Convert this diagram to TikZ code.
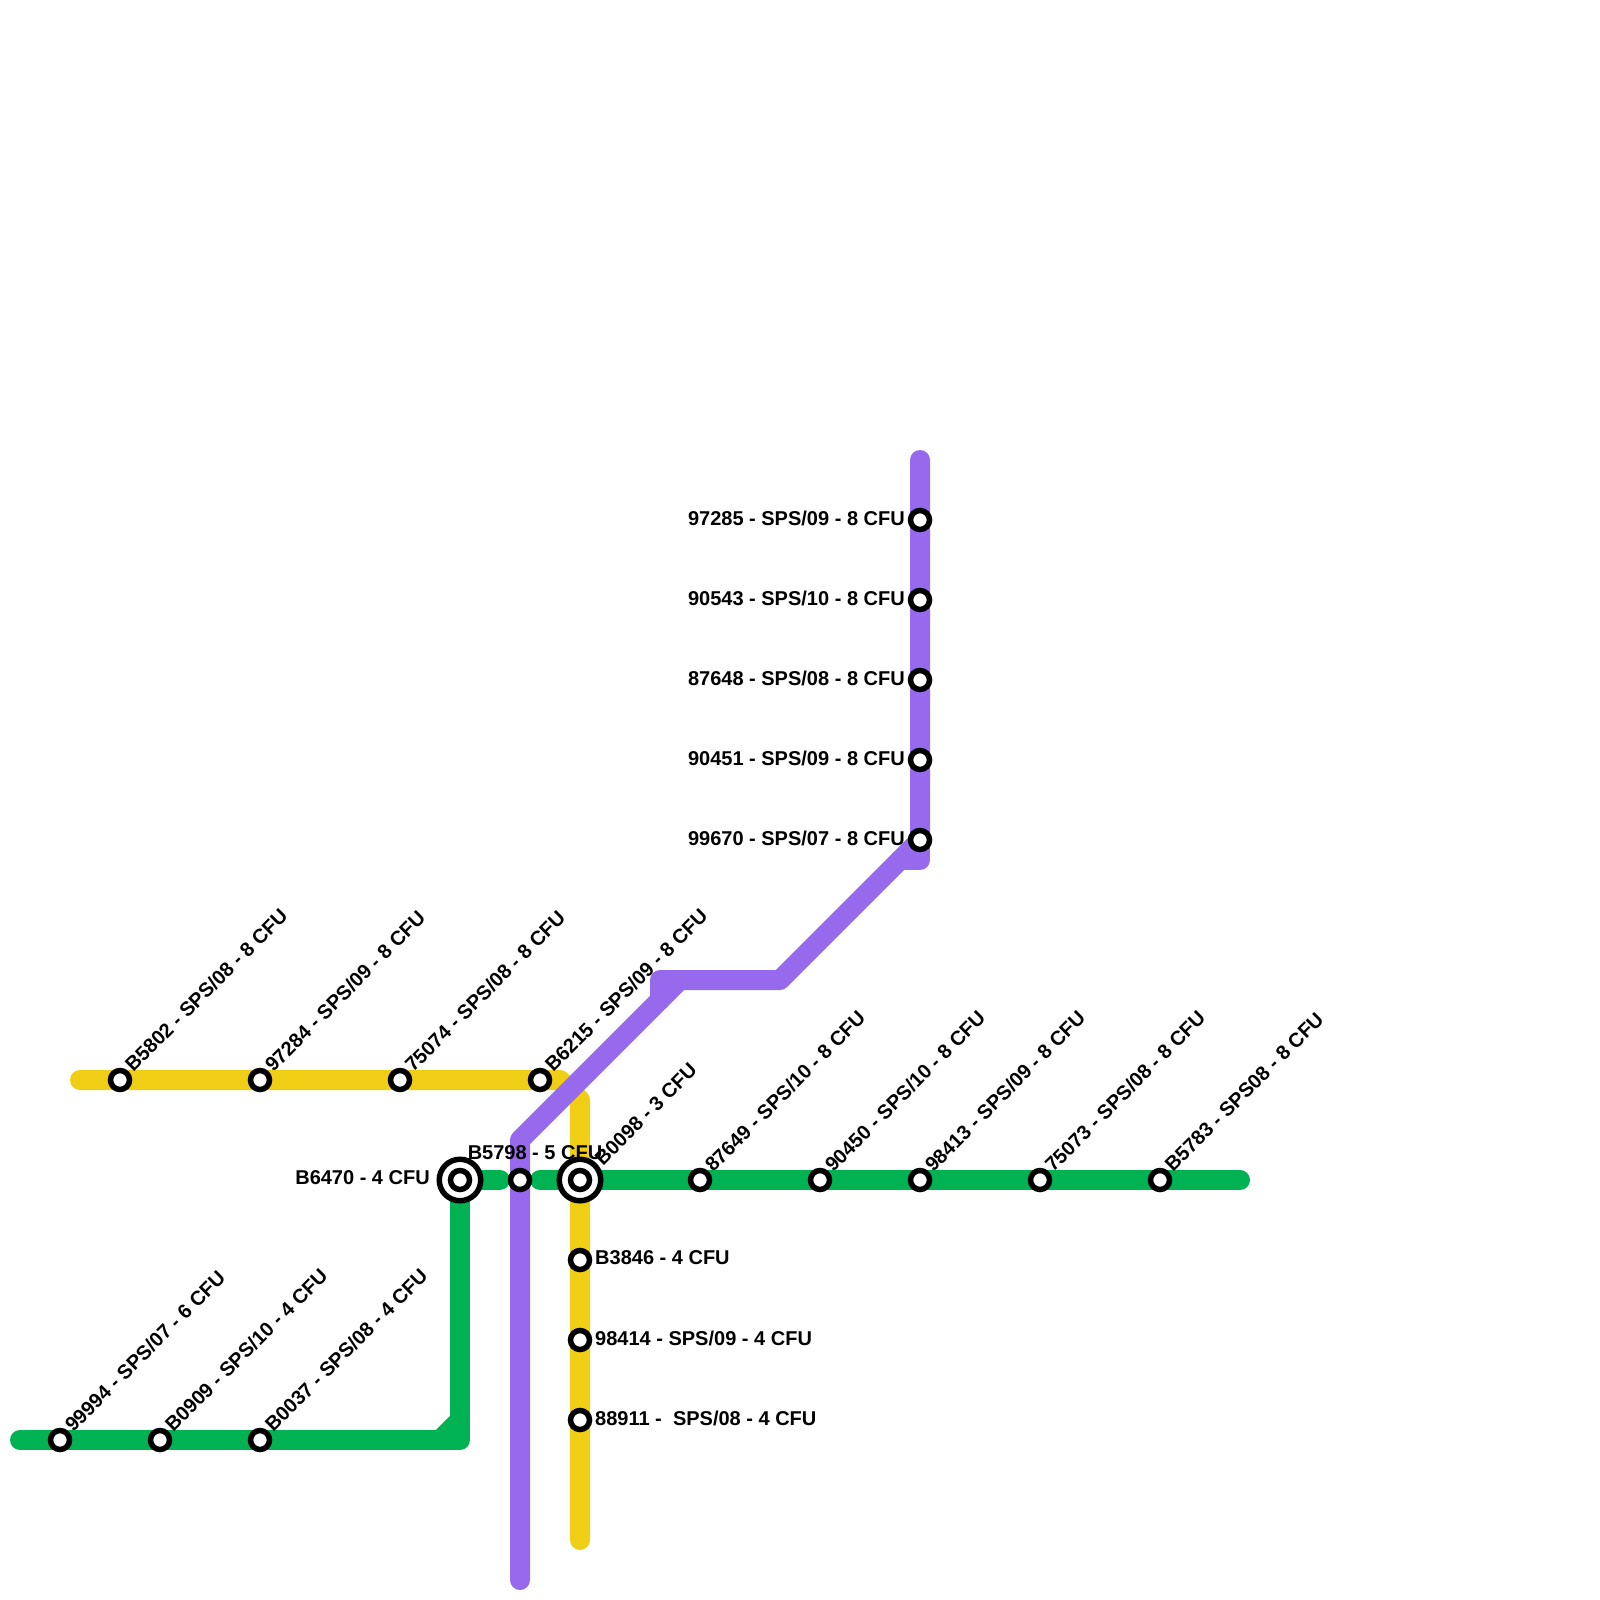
\documentclass[tikz,border=0pt]{standalone}
\usepackage{fontspec}
\setmainfont{Liberation Sans}
\definecolor{lgreen}{HTML}{00B251}
\definecolor{lyellow}{HTML}{F0CE15}
\definecolor{lpurple}{HTML}{9769EC}
\tikzset{
  track/.style={line width=20pt,line cap=round,line join=round},
  stn/.style={circle,draw=black,fill=white,line width=5.5pt,minimum size=19pt,inner sep=0pt},
  hub/.style={circle,draw=black,fill=white,line width=5.5pt,minimum size=41.5pt,inner sep=0pt},
  lab/.style={font=\bfseries\fontsize{20}{24}\selectfont,inner sep=0pt,text=black},
  labup/.style={lab,rotate=45,anchor=west,xshift=14.25pt,yshift=2.65pt},
  labl/.style={lab,anchor=east,xshift=-15pt,yshift=2pt},
  labr/.style={lab,anchor=west,xshift=15pt,yshift=2pt}
}
\begin{document}
\begin{tikzpicture}[x=1pt,y=-1pt]
\useasboundingbox (0,0) rectangle (1600,1600);
\fill[white] (0,0) rectangle (1600,1600);
% stops
\foreach \n/\x/\y in {a1/60/1440,a2/160/1440,a3/260/1440,
  b1/120/1080,b2/260/1080,b3/400/1080,b4/540/1080,
  c1/460/1180,c2/520/1180,c3/580/1180,c4/700/1180,c5/820/1180,c6/920/1180,c7/1040/1180,c8/1160/1180,
  d1/580/1260,d2/580/1340,d3/580/1420,
  e1/920/520,e2/920/600,e3/920/680,e4/920/760,e5/920/840}
  {\coordinate (\n) at (\x,\y);}
% bends and line ends
\coordinate (g0) at (20,1440);
\coordinate (g1) at (460,1440);
\coordinate (g2) at (440,1440);
\coordinate (g3) at (460,1420);
\coordinate (g4) at (500,1180);
\coordinate (g5) at (540,1180);
\coordinate (g6) at (1240,1180);
\coordinate (y0) at (80,1080);
\coordinate (y1) at (560,1080);
\coordinate (y2) at (580,1100);
\coordinate (y3) at (580,1540);
\coordinate (p0) at (520,1580);
\coordinate (p1) at (520,1140);
\coordinate (p2) at (680,980);
\coordinate (p3) at (660,1000);
\coordinate (p4) at (660,980);
\coordinate (p5) at (780,980);
\coordinate (p6) at (900,860);
\coordinate (p7) at (920,860);
\coordinate (p8) at (920,460);
% lines
\draw[track,lgreen] (g0) -- (g1) -- (c1) -- (g4);
\draw[track,lgreen] (g2) -- (g3);
\draw[track,lgreen] (g5) -- (g6);
\draw[track,lyellow] (y0) -- (y1) -- (y2) -- (y3);
\draw[track,lpurple] (p0) -- (p1) -- (p2);
\draw[track,lpurple] (p3) -- (p4) -- (p5) -- (e5) -- (p8);
\draw[track,lpurple] (p6) -- (p7) -- (e5);
% stations
\foreach \n in {a1,a2,a3,b1,b2,b3,b4,c2,c4,c5,c6,c7,c8,d1,d2,d3,e1,e2,e3,e4,e5}
  {\node[stn] (n\n) at (\n) {};}
\node[hub] (h1) at (c1) {};
\node[stn] (nc1) at (c1) {};
\node[hub] (h3) at (c3) {};
\node[stn] (nc3) at (c3) {};
% labels
\node[labup] (ta1) at (a1) {99994 - SPS/07 - 6 CFU};
\node[labup] (ta2) at (a2) {B0909 - SPS/10 - 4 CFU};
\node[labup] (ta3) at (a3) {B0037 - SPS/08 - 4 CFU};
\node[labup] (tb1) at (b1) {B5802 - SPS/08 - 8 CFU};
\node[labup] (tb2) at (b2) {97284 - SPS/09 - 8 CFU};
\node[labup] (tb3) at (b3) {75074 - SPS/08 - 8 CFU};
\node[labup] (tb4) at (b4) {B6215 - SPS/09 - 8 CFU};
\node[labup,xshift=11.5pt,yshift=-2.5pt] (tc3) at (c3) {B0098 - 3 CFU};
\node[labup] (tc4) at (c4) {87649 - SPS/10 - 8 CFU};
\node[labup] (tc5) at (c5) {90450 - SPS/10 - 8 CFU};
\node[labup] (tc6) at (c6) {98413 - SPS/09 - 8 CFU};
\node[labup] (tc7) at (c7) {75073 - SPS/08 - 8 CFU};
\node[labup] (tc8) at (c8) {B5783 - SPS08 - 8 CFU};
\node[lab,anchor=east,xshift=-30pt,yshift=2pt] (tc1) at (c1) {B6470 - 4 CFU};
\node[lab,anchor=center] (tc2) at (535,1153) {B5798 - 5 CFU};
\node[labr] (td1) at (d1) {B3846 - 4 CFU};
\node[labr] (td2) at (d2) {98414 - SPS/09 - 4 CFU};
\node[labr] (td3) at (d3) {88911 - \ SPS/08 - 4 CFU};
\node[labl] (te1) at (e1) {97285 - SPS/09 - 8 CFU};
\node[labl] (te2) at (e2) {90543 - SPS/10 - 8 CFU};
\node[labl] (te3) at (e3) {87648 - SPS/08 - 8 CFU};
\node[labl] (te4) at (e4) {90451 - SPS/09 - 8 CFU};
\node[labl] (te5) at (e5) {99670 - SPS/07 - 8 CFU};
\end{tikzpicture}
\end{document}
